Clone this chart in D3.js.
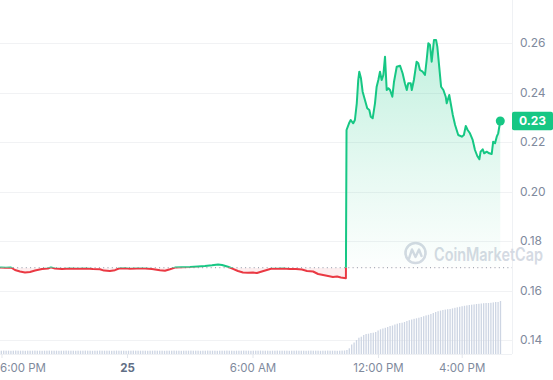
<!DOCTYPE html>
<html>
<head>
<meta charset="utf-8">
<script src="https://cdn.jsdelivr.net/npm/d3@7"></script>
<style>
  html, body { margin: 0; padding: 0; background: #fff; }
  svg { display: block; }
  text { font-family: Inter, "Liberation Sans", Arial, sans-serif; }
</style>
</head>
<body>
<svg id="chart" width="553" height="380"></svg>
<script>
// ---------- data (hours relative to midnight of the 25th) ----------
const priceHours = [
  -6.09, -5.81, -5.57, -5.38, -5.14, -4.90, -4.66, -4.42, -4.09, -3.80,
  -3.66, -3.47, -3.13, -2.75, -2.37, -1.98, -1.65, -1.32, -1.12, -0.84,
  -0.60, -0.41, -0.12, 0.12, 0.45, 0.84, 1.17, 1.55, 1.79, 2.03,
  2.27, 2.60, 2.99, 3.37, 3.70, 4.04, 4.33, 4.52, 4.80, 5.04,
  5.28, 5.52, 5.76, 6.00, 6.19, 6.38, 6.62, 6.86, 7.15, 7.43,
  7.77, 8.05, 8.34, 8.58, 8.87, 9.11, 9.35, 9.59, 9.82, 10.02,
  10.20, 10.44,
  10.47, 10.59, 10.67, 10.79, 10.87, 10.96, 11.03, 11.08, 11.16, 11.24,
  11.35, 11.46, 11.56, 11.63, 11.72, 11.83, 11.91, 11.99, 12.07, 12.15,
  12.23, 12.31, 12.39, 12.47, 12.55, 12.66, 12.74, 12.87, 13.03, 13.15,
  13.26, 13.35, 13.42, 13.54, 13.59, 13.69, 13.82, 13.90, 13.98, 14.11,
  14.22, 14.30, 14.38, 14.46, 14.54, 14.65, 14.75, 14.81, 14.90, 14.99,
  15.10, 15.21, 15.26, 15.38, 15.45, 15.55, 15.66, 15.81, 15.98, 16.08,
  16.17, 16.26, 16.37, 16.50, 16.61, 16.72, 16.82, 16.88, 16.98, 17.05,
  17.17, 17.29, 17.41, 17.48, 17.57, 17.65, 17.72, 17.82
];
const prices = [
  0.16925, 0.16917, 0.16929, 0.16828, 0.16768, 0.16727, 0.16747, 0.16808, 0.16869, 0.16889,
  0.16933, 0.16889, 0.16869, 0.16885, 0.16877, 0.16889, 0.16869, 0.16857, 0.16804, 0.16788,
  0.16820, 0.16889, 0.16901, 0.16877, 0.16893, 0.16885, 0.16869, 0.16816, 0.16796, 0.16857,
  0.16925, 0.16941, 0.16949, 0.16970, 0.16990, 0.17018, 0.17055, 0.17030, 0.16958, 0.16877,
  0.16788, 0.16727, 0.16715, 0.16723, 0.16707, 0.16756, 0.16820, 0.16877, 0.16877, 0.16885,
  0.16873, 0.16869, 0.16848, 0.16788, 0.16768, 0.16667, 0.16626, 0.16586, 0.16545, 0.16562,
  0.16525, 0.16497,
  0.22485, 0.22756, 0.22889, 0.22756, 0.22889, 0.23564, 0.24505, 0.24840, 0.24574, 0.24032,
  0.23697, 0.23362, 0.23293, 0.23022, 0.22958, 0.23564, 0.24234, 0.24505, 0.24840, 0.24505,
  0.24707, 0.25446, 0.24101, 0.24170, 0.24101, 0.23830, 0.24436, 0.25042, 0.25083, 0.24776,
  0.24372, 0.24101, 0.24372, 0.24372, 0.24101, 0.24505, 0.25244, 0.25180, 0.24909, 0.24840,
  0.24707, 0.25313, 0.25988, 0.25919, 0.25244, 0.26121, 0.26121, 0.25851, 0.25042, 0.24234,
  0.24101, 0.23830, 0.23564, 0.23899, 0.23564, 0.23091, 0.22687, 0.22283, 0.22214, 0.22283,
  0.22646, 0.22485, 0.22352, 0.22081, 0.21677, 0.21434, 0.21301, 0.21608, 0.21705, 0.21543,
  0.21608, 0.21543, 0.21515, 0.22012, 0.21947, 0.22214, 0.22352, 0.22848
];
const openPrice = 0.16921;          // dotted reference line
const currentLabel = "0.23";

const volumeStartHour = -6.032;     // first volume bar
const volumeStepHours = 0.11472;    // bar interval
const volumes = [
  33,34,33,33,32,33,34,33,33,33,32,33,
  33,33,34,33,33,32,33,33,34,33,33,33,
  32,33,33,34,33,33,33,32,33,33,33,34,
  33,33,32,33,33,34,33,33,33,33,32,33,
  34,33,33,33,32,33,33,34,33,33,33,33,
  33,32,33,33,34,33,33,33,32,33,33,33,
  34,33,33,32,33,33,33,34,33,33,33,32,
  33,33,34,33,33,33,32,33,33,33,34,33,
  33,32,33,33,33,34,33,33,32,33,33,33,
  34,33,33,33,32,33,33,34,33,33,33,33,
  32,33,33,34,33,33,33,32,33,34,33,33,
  33,32,33,33,34,33,33,33,32,33,34,35,
  40,57,95,115,140,163,173,190,200,203,
  210,213,220,235,247,255,262,270,280,285,
  295,303,310,313,320,330,338,345,352,357,
  363,370,378,386,392,400,410,420,428,434,
  440,444,448,450,456,462,467,472,478,482,
  486,490,493,496,500,502,505,508,510,510,
  512,516,520,520,530
];

const yTickValues = [0.14, 0.16, 0.18, 0.20, 0.22, 0.24, 0.26];
const xTickHours = [-6, 0, 6, 12, 16];
const xTickLabels = ["6:00 PM", "25", "6:00 AM", "12:00 PM", "4:00 PM"];

// ---------- layout ----------
const plotRight = 512, plotBottom = 354;
const GREEN = "#16c784", RED = "#ea3943";
const svg = d3.select("#chart");

const x = d3.scaleLinear().domain([-6.095, 18.38]).range([0, plotRight]);
const y = d3.scaleLinear().domain([0.14, 0.26]).range([340, 43]);
const yVol = d3.scaleLinear().domain([0, 530]).range([plotBottom, 301]);

const data = priceHours.map((h, i) => ({ h, p: prices[i] }));
const baseY = y(openPrice);

const defs = svg.append("defs");
defs.append("clipPath").attr("id", "clipAbove")
  .append("rect").attr("x", -5).attr("y", 0).attr("width", plotRight + 10).attr("height", baseY);
defs.append("clipPath").attr("id", "clipBelow")
  .append("rect").attr("x", -5).attr("y", baseY).attr("width", plotRight + 10).attr("height", plotBottom - baseY);
const grad = defs.append("linearGradient").attr("id", "greenGrad")
  .attr("gradientUnits", "userSpaceOnUse").attr("x1", 0).attr("x2", 0)
  .attr("y1", y(0.26)).attr("y2", baseY);
grad.append("stop").attr("offset", 0).attr("stop-color", GREEN).attr("stop-opacity", 0.26);
grad.append("stop").attr("offset", 0.6).attr("stop-color", GREEN).attr("stop-opacity", 0.1);
grad.append("stop").attr("offset", 1).attr("stop-color", GREEN).attr("stop-opacity", 0.01);

// grid lines
svg.append("g").selectAll("line").data(yTickValues).join("line")
  .attr("x1", 0).attr("x2", plotRight)
  .attr("y1", d => Math.round(y(d)) + 0.5).attr("y2", d => Math.round(y(d)) + 0.5)
  .attr("stroke", "#f1f2f4").attr("stroke-width", 1);

// frame (right + bottom)
svg.append("line").attr("x1", plotRight + 0.5).attr("x2", plotRight + 0.5)
  .attr("y1", 0).attr("y2", plotBottom).attr("stroke", "#eff1f4");
svg.append("line").attr("x1", 0).attr("x2", plotRight)
  .attr("y1", plotBottom + 0.5).attr("y2", plotBottom + 0.5).attr("stroke", "#eff1f4");

// volume bars
svg.append("g").selectAll("rect").data(volumes).join("rect")
  .attr("x", (d, i) => x(volumeStartHour + i * volumeStepHours) - 0.65)
  .attr("width", 1.3)
  .attr("y", d => yVol(d))
  .attr("height", d => plotBottom - yVol(d))
  .attr("fill", "#cdd5e3");

// watermark
const wm = svg.append("g").attr("opacity", 1);
wm.append("circle").attr("cx", 415.5).attr("cy", 253).attr("r", 10)
  .attr("fill", "none").attr("stroke", "#d5dae3").attr("stroke-width", 2.6);
wm.append("path").attr("d", "M409,258.5 L412,249.5 L415.5,257 L419,249.5 L421.5,256")
  .attr("fill", "none").attr("stroke", "#d5dae3").attr("stroke-width", 2.4)
  .attr("stroke-linejoin", "round").attr("stroke-linecap", "round");
wm.append("text").attr("x", 434).attr("y", 260.5).text("CoinMarketCap")
  .attr("font-size", 18).attr("font-weight", 600).attr("fill", "#d5dae3")
  .attr("textLength", 109).attr("lengthAdjust", "spacingAndGlyphs");

// areas
const area = d3.area().x(d => x(d.h)).y0(baseY).y1(d => y(d.p));
svg.append("path").datum(data).attr("d", area)
  .attr("fill", "url(#greenGrad)").attr("clip-path", "url(#clipAbove)");
svg.append("path").datum(data).attr("d", area)
  .attr("fill", RED).attr("fill-opacity", 0.08).attr("clip-path", "url(#clipBelow)");

// dotted open-price line
svg.append("line").attr("x1", 0).attr("x2", plotRight)
  .attr("y1", baseY).attr("y2", baseY)
  .attr("stroke", "#8c93a3").attr("stroke-width", 1).attr("stroke-dasharray", "1,3.3");

// price line
const line = d3.line().x(d => x(d.h)).y(d => y(d.p));
svg.append("path").datum(data).attr("d", line)
  .attr("fill", "none").attr("stroke", GREEN).attr("stroke-width", 2)
  .attr("stroke-linejoin", "round").attr("clip-path", "url(#clipAbove)");
svg.append("path").datum(data).attr("d", line)
  .attr("fill", "none").attr("stroke", RED).attr("stroke-width", 2)
  .attr("stroke-linejoin", "round").attr("clip-path", "url(#clipBelow)");

// end dot
const last = data[data.length - 1];
svg.append("circle").attr("cx", x(last.h)).attr("cy", y(last.p)).attr("r", 4.5).attr("fill", GREEN);

// y axis labels
svg.append("g").selectAll("text").data(yTickValues).join("text")
  .attr("x", 520).attr("y", d => y(d)).attr("dy", "0.35em")
  .attr("font-size", 12).attr("fill", "#808a9d")
  .text(d => d3.format(".2f")(d));

// current price tag
const ly = y(last.p);
svg.append("rect").attr("x", 512).attr("y", ly - 9.3).attr("width", 41).attr("height", 18.6)
  .attr("rx", 2).attr("fill", GREEN);
svg.append("text").attr("x", 532.5).attr("y", ly).attr("dy", "0.35em")
  .attr("text-anchor", "middle").attr("font-size", 12).attr("font-weight", 700)
  .attr("fill", "#fff").text(currentLabel);

// x axis ticks & labels
const xg = svg.append("g");
xTickHours.forEach((h, i) => {
  const px = x(h);
  xg.append("line").attr("x1", px).attr("x2", px).attr("y1", plotBottom).attr("y2", plotBottom + 4)
    .attr("stroke", "#e3e6ec");
  const t = xg.append("text").attr("x", px).attr("y", 368).attr("dy", "0.35em")
    .attr("text-anchor", "middle").attr("font-size", 11.5)
    .attr("fill", xTickLabels[i] === "25" ? "#616e85" : "#808a9d")
    .attr("font-weight", xTickLabels[i] === "25" ? 700 : 400)
    .text(xTickLabels[i]);
  const w = t.node().getComputedTextLength();
  if (px - w / 2 < 0) t.attr("x", 0).attr("text-anchor", "start");
});
</script>
</body>
</html>
